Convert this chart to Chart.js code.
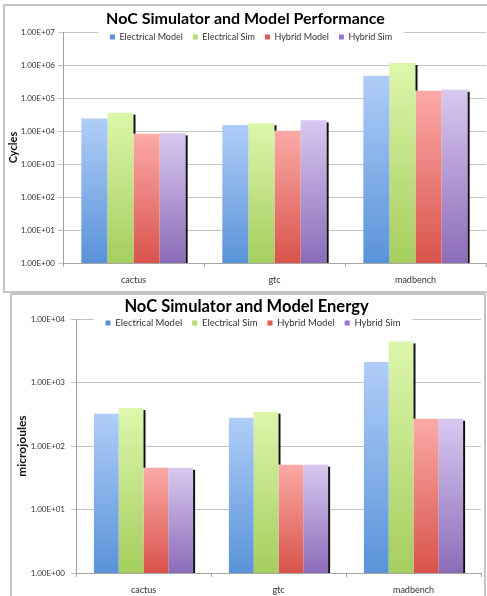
<!DOCTYPE html>
<html>
<head>
<meta charset="utf-8">
<script src="https://cdn.jsdelivr.net/npm/chart.js@4.4.1/dist/chart.umd.min.js"></script>
<style>
  html, body { margin: 0; padding: 0; background: #fff; overflow: hidden; }
  body { width: 487px; height: 596px; position: relative; }
  .frame { position: absolute; border: 2px solid #c4c4c4; background: #fff; }
  #perfFrame { left: 3px; top: 4px; width: 484px; height: 285px; }
  #energyFrame { left: 10px; top: 293px; width: 472px; height: 303px; }
  canvas { display: block; }
</style>
</head>
<body>
<div class="frame" id="perfFrame"><canvas id="perfChart" width="484" height="285"></canvas></div>
<div class="frame" id="energyFrame"><canvas id="energyChart" width="472" height="303"></canvas></div>
<script>
// Data
const categories = ['cactus', 'gtc', 'madbench'];
const seriesNames = ['Electrical Model', 'Electrical Sim', 'Hybrid Model', 'Hybrid Sim'];

const perfElectricalModel = [24000, 15200, 470000];
const perfElectricalSim = [36000, 17200, 1150000];
const perfHybridModel = [8300, 10200, 166000];
const perfHybridSim = [8500, 21000, 178000];
const perfTicks = [1, 10, 100, 1000, 10000, 100000, 1000000, 10000000];

const energyElectricalModel = [324, 281, 2110];
const energyElectricalSim = [398, 349, 4470];
const energyHybridModel = [45.7, 51, 270];
const energyHybridSim = [45.5, 51, 270];
const energyTicks = [1, 10, 100, 1000, 10000];

// Gradient colours per series (top, bottom) and legend swatch colour
const barTop = ['#b0cdf8', '#dcf7ab', '#fbaaa7', '#d8c8f0'];
const barBottom = ['#5a93d8', '#a5cd5e', '#d9534c', '#8c6cb8'];
const swatch = ['#5b8fdc', '#b0dc70', '#e05a55', '#9a78cc'];

const FONT = 'Lato';
Chart.defaults.font.family = FONT;

function sci(v) {
    const e = Math.floor(Math.log10(v) + 1e-9);
    const m = v / Math.pow(10, e);
    return m.toFixed(2) + 'E' + (e < 0 ? '-' : '+') + String(Math.abs(e)).padStart(2, '0');
}

// vertical gradient for every single bar, light at top, dark at base
function barFill(i) {
    return (ctx) => {
        const chart = ctx.chart;
        if (ctx.type !== 'data' || !chart.chartArea || !chart.scales.y) return swatch[i];
        const y = chart.scales.y.getPixelForValue(ctx.raw);
        const g = chart.ctx.createLinearGradient(0, y, 0, chart.chartArea.bottom);
        g.addColorStop(0, barTop[i]);
        g.addColorStop(1, barBottom[i]);
        return g;
    };
}

// legend sits over the top gridline, like Excel does it
const legendInPlot = {
    id: 'legendInPlot',
    beforeLayout(chart, args, opts) {
        const lg = chart.legend;
        if (!lg || lg._squeezed) return;
        const fit = lg.fit;
        lg.fit = function () { fit.call(this); this.height = opts.height; };
        lg._squeezed = true;
    },
    afterLayout(chart, args, opts) {
        const lg = chart.legend;
        const pad = lg.options.labels.padding;
        const size = lg.options.labels.font.size;
        lg.top = opts.textY - pad - size / 2;
        lg.bottom = lg.top + size + pad * 2 + 4;
        const dx = opts.centerX - (lg.left + lg.right) / 2;
        lg.left += dx;
        lg.right += dx;
    },
    beforeDatasetsDraw(chart, args, opts) {
        const lg = chart.legend;
        const boxes = lg.legendHitBoxes;
        const x0 = Math.min(...boxes.map(b => b.left)) - 12;
        const x1 = Math.max(...boxes.map(b => b.left + b.width)) + 12;
        const c = chart.ctx;
        c.save();
        c.fillStyle = '#fff';
        c.fillRect(x0, opts.textY - 6, x1 - x0, 12);
        c.restore();
        lg.draw();
    }
};

// thin black shadow on the right side of each bar
const barShadow = {
    id: 'barShadow',
    afterDatasetsDraw(chart) {
        const metas = chart.data.datasets.map((d, i) => chart.getDatasetMeta(i));
        const c = chart.ctx;
        c.save();
        c.strokeStyle = '#111';
        c.lineWidth = 2;
        metas.forEach((meta, d) => {
            meta.data.forEach((bar, i) => {
                const next = metas[d + 1] ? metas[d + 1].data[i] : null;
                const x = bar.x + bar.width / 2 + 1;
                const y0 = bar.y + 2;
                const y1 = next ? Math.min(next.y, bar.base) : bar.base;
                if (y1 > y0) {
                    c.beginPath();
                    c.moveTo(x, y0);
                    c.lineTo(x, y1);
                    c.stroke();
                }
            });
        });
        c.restore();
    }
};

function makeChart(id, cfg) {
    const datasets = cfg.series.map((vals, i) => ({
        label: seriesNames[i],
        data: vals,
        backgroundColor: barFill(i),
        borderWidth: 0,
        categoryPercentage: cfg.catPct,
        barPercentage: 1
    }));
    return new Chart(document.getElementById(id), {
        type: 'bar',
        data: { labels: categories, datasets: datasets },
        options: {
            responsive: false,
            animation: false,
            layout: { padding: { left: 0, right: cfg.padRight, top: 0, bottom: 0 } },
            plugins: {
                title: {
                    display: true,
                    text: cfg.title,
                    color: '#000',
                    font: { family: FONT, size: cfg.titleSize, weight: 'bold', lineHeight: 1.2 },
                    padding: { top: cfg.titleTop, bottom: 0 }
                },
                legend: {
                    display: true,
                    position: 'top',
                    labels: {
                        boxWidth: 5,
                        boxHeight: 5,
                        padding: 10,
                        color: '#333',
                        font: { family: FONT, size: cfg.legendSize },
                        generateLabels: (chart) => seriesNames.map((name, i) => ({
                            text: name,
                            fillStyle: swatch[i],
                            strokeStyle: swatch[i],
                            lineWidth: 0,
                            datasetIndex: i,
                            fontColor: '#333'
                        }))
                    }
                },
                tooltip: { enabled: false },
                legendInPlot: { height: cfg.legendH, textY: cfg.legendY, centerX: cfg.legendX }
            },
            scales: {
                x: {
                    afterFit: (s) => { s.height = cfg.xHeight; },
                    grid: { drawOnChartArea: false, drawTicks: true, tickLength: 4, color: '#a6a6a6', offset: true },
                    border: { color: '#a6a6a6' },
                    ticks: { color: '#333', padding: 8, font: { family: FONT, size: 9 } }
                },
                y: {
                    type: 'logarithmic',
                    min: 1,
                    max: cfg.ticks[cfg.ticks.length - 1],
                    afterFit: (s) => { s.width = cfg.yWidth; },
                    afterBuildTicks: (s) => { s.ticks = cfg.ticks.map(v => ({ value: v })); },
                    grid: { color: '#c4c4c4', tickLength: 5 },
                    border: { color: '#a0a0a0' },
                    ticks: { color: '#333', padding: cfg.yTickPad, font: { family: FONT, size: 8 }, callback: (v) => sci(v) },
                    title: {
                        display: true,
                        text: cfg.yTitle,
                        color: '#111',
                        font: { family: FONT, size: cfg.yTitleSize, weight: 'bold', lineHeight: 1.2 },
                        padding: { top: cfg.yTitlePad, bottom: 0 }
                    }
                }
            }
        },
        plugins: [legendInPlot, barShadow]
    });
}

makeChart('perfChart', {
    series: [perfElectricalModel, perfElectricalSim, perfHybridModel, perfHybridSim],
    ticks: perfTicks,
    title: 'NoC Simulator and Model Performance',
    titleSize: 16,
    titleTop: 3,
    legendSize: 9,
    legendH: 3.8,
    legendY: 31,
    legendX: 246,
    catPct: 0.74,
    padRight: 3,
    xHeight: 28,
    yWidth: 58,
    yTickPad: 3,
    yTitle: 'Cycles',
    yTitleSize: 11,
    yTitlePad: 1.6
});

makeChart('energyChart', {
    series: [energyElectricalModel, energyElectricalSim, energyHybridModel, energyHybridSim],
    ticks: energyTicks,
    title: 'NoC Simulator and Model Energy',
    titleSize: 16.5,
    titleTop: 1.4,
    legendSize: 9.5,
    legendH: 3,
    legendY: 28,
    legendX: 241,
    catPct: 0.735,
    padRight: 3,
    xHeight: 25,
    yWidth: 64,
    yTickPad: 6,
    yTitle: 'microjoules',
    yTitleSize: 12,
    yTitlePad: 3
});
</script>
</body>
</html>
